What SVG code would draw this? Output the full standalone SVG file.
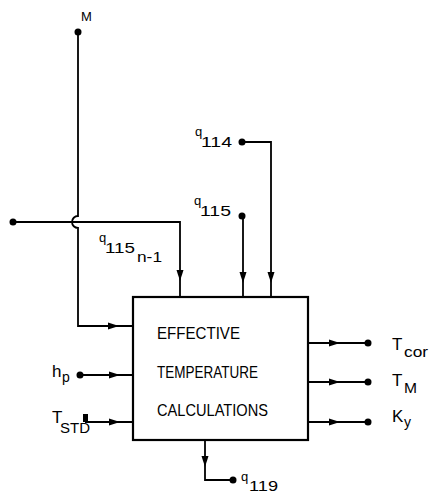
<svg xmlns="http://www.w3.org/2000/svg" width="431" height="494" viewBox="0 0 431 494">
<style>
.ln{fill:none;stroke:#000;stroke-width:1.8;stroke-linejoin:miter}
.box{fill:#fff;stroke:#000;stroke-width:2.2}
.dot{fill:#000}
.t{font-family:"Liberation Sans","DejaVu Sans",sans-serif;fill:#000}
.big{font-size:17px}
.sub{font-size:14px}
.q{font-size:13px}
.bx{font-size:17px}
</style>
<defs>
<path id="arr" d="M-11,-3.5 L0,0 L-11,3.5 Z" fill="#000"/>
</defs>
<g id="connectors">
<path class="ln" d="M78,32 L78,216 A6,6 0 0 0 78,228 L78,326 L133,326"/>
<path class="ln" d="M13,222 L180,222 L180,297"/>
<path class="ln" d="M242,142 L271,142 L271,297"/>
<path class="ln" d="M243,217 L243,297"/>
<path class="ln" d="M80,375 L133,375"/>
<path class="ln" d="M85,422 L133,422"/>
<path class="ln" d="M308,343 L368,343"/>
<path class="ln" d="M308,382 L368,382"/>
<path class="ln" d="M308,422 L368,422"/>
<path class="ln" d="M205,440 L205,480 L233,480"/>
<use href="#arr" transform="translate(119,326)"/>
<use href="#arr" transform="translate(180,281) rotate(90)"/>
<use href="#arr" transform="translate(243,283) rotate(90)"/>
<use href="#arr" transform="translate(271,283) rotate(90)"/>
<use href="#arr" transform="translate(120,375)"/>
<use href="#arr" transform="translate(120,422)"/>
<use href="#arr" transform="translate(340,343)"/>
<use href="#arr" transform="translate(340,382)"/>
<use href="#arr" transform="translate(340,422)"/>
<use href="#arr" transform="translate(205,467) rotate(90)"/>
</g>
<g id="box">
<rect class="box" x="133" y="297" width="175" height="143"/>
<text class="t bx" x="157" y="339" textLength="83" lengthAdjust="spacingAndGlyphs">EFFECTIVE</text>
<text class="t bx" x="157" y="378" textLength="101" lengthAdjust="spacingAndGlyphs">TEMPERATURE</text>
<text class="t bx" x="157" y="416" textLength="111" lengthAdjust="spacingAndGlyphs">CALCULATIONS</text>
</g>
<g id="M">
<circle class="dot" cx="78" cy="32" r="3.5"/>
<text class="t" font-size="13" x="81" y="21">M</text>
</g>
<g id="q115n1-in">
<circle class="dot" cx="13" cy="222" r="3.5"/>
<text class="t q" x="99" y="242">q</text>
<text class="t sub" x="105" y="253" textLength="30" lengthAdjust="spacingAndGlyphs">115</text>
<text class="t sub" x="137" y="262" textLength="25" lengthAdjust="spacingAndGlyphs">n-1</text>
</g>
<g id="q114">
<circle class="dot" cx="242" cy="142" r="3.5"/>
<text class="t q" x="195" y="136">q</text>
<text class="t sub" x="201" y="147" textLength="31" lengthAdjust="spacingAndGlyphs">114</text>
</g>
<g id="q115">
<circle class="dot" cx="242" cy="216" r="3.5"/>
<text class="t q" x="194" y="205">q</text>
<text class="t sub" x="200" y="216" textLength="31" lengthAdjust="spacingAndGlyphs">115</text>
</g>
<g id="hp">
<circle class="dot" cx="80" cy="375" r="3.5"/>
<text class="t big" x="52" y="377">h</text>
<text class="t sub" x="62" y="382">p</text>
</g>
<g id="TSTD">
<rect class="dot" x="83" y="414" width="5" height="8"/>
<text class="t big" x="52" y="423">T</text>
<text class="t sub" x="60" y="433" textLength="30" lengthAdjust="spacingAndGlyphs">STD</text>
</g>
<g id="Tcor">
<circle class="dot" cx="368" cy="343" r="3.5"/>
<text class="t big" x="392" y="350">T</text>
<text class="t sub" x="404" y="357" textLength="24" lengthAdjust="spacingAndGlyphs">cor</text>
</g>
<g id="TM">
<circle class="dot" cx="368" cy="382" r="3.5"/>
<text class="t big" x="392" y="386">T</text>
<text class="t sub" x="404" y="393" textLength="13" lengthAdjust="spacingAndGlyphs">M</text>
</g>
<g id="Ky">
<circle class="dot" cx="368" cy="422" r="3.5"/>
<text class="t big" x="392" y="422">K</text>
<text class="t sub" x="404" y="427">y</text>
</g>
<g id="q119">
<circle class="dot" cx="233" cy="480" r="3.5"/>
<text class="t q" x="241" y="481">q</text>
<text class="t sub" x="249" y="491" textLength="29" lengthAdjust="spacingAndGlyphs">119</text>
</g>
</svg>
